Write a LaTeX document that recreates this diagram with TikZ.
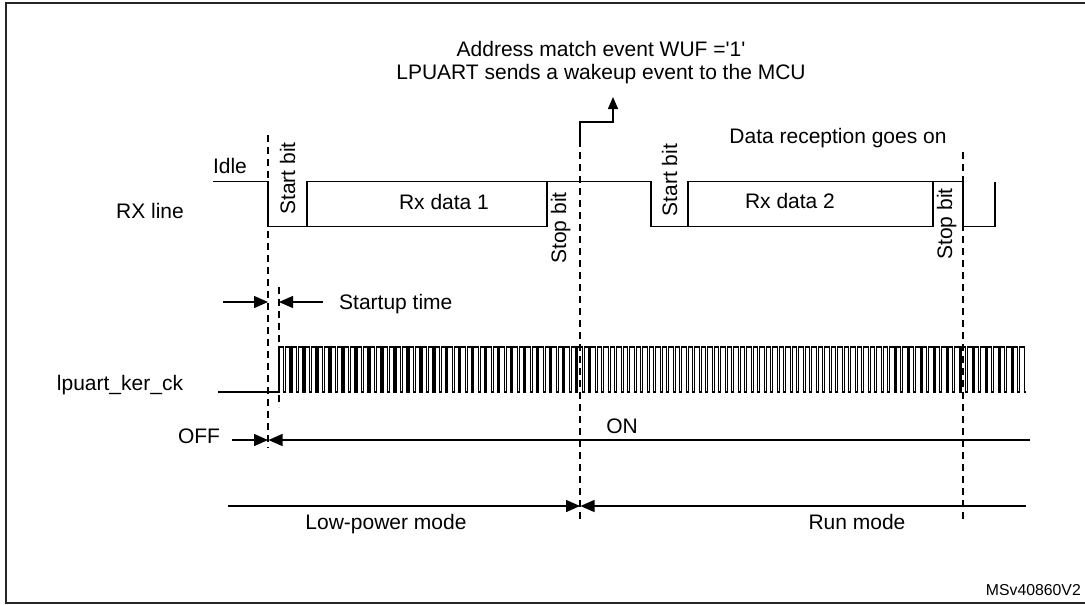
\documentclass[tikz,border=0pt]{standalone}
\usepackage{fontspec}
\setmainfont{Liberation Sans}
\usetikzlibrary{arrows.meta}
\tikzset{
  sig/.style={line width=1.4pt, line join=miter},
  guide/.style={line width=1.2pt, dash pattern=on 7pt off 5pt},
  lbl/.style={inner sep=0pt, font=\fontsize{21}{23}\selectfont},
  vlbl/.style={lbl, rotate=90, anchor=base},
  tipr/.style={line width=1.4pt, -{Triangle[length=14pt,width=12pt]}},
}
\begin{document}
\begin{tikzpicture}[x=1pt,y=-1pt]
\useasboundingbox (0,0) rectangle (1085,605);
% frame
\draw[line width=2.5pt, black!85] (1085,3) -- (6,3) -- (6,603) -- (1085,603);

% top text
\node[lbl, align=center] (wake) at (601,63) {Address match event WUF =\textquotesingle1\textquotesingle\\LPUART sends a wakeup event to the MCU};

% labels
\node[lbl, anchor=base] (idle) at (230,173) {Idle};
\node[lbl, anchor=base] (rxl) at (150,218) {RX line};
\node[lbl, anchor=base] (ck) at (120,390) {lpuart\_ker\_ck};
\node[lbl, anchor=base] (off) at (199,443) {OFF};
\node[lbl, anchor=base] (on) at (622,433) {ON};
\node[lbl, anchor=base west] (st) at (339,309) {Startup time};
\node[lbl, anchor=base] (lpm) at (386,529) {Low-power mode};
\node[lbl, anchor=base] (rm) at (857,529) {Run mode};
\node[lbl, anchor=base] (d1) at (444,209) {Rx data 1};
\node[lbl, anchor=base] (d2) at (790,208) {Rx data 2};
\node[lbl, anchor=base] (dr) at (838,143) {Data reception goes on};
\node[vlbl] (sb1) at (295,178.5) {Start bit};
\node[vlbl] (sb2) at (677,180) {Start bit};
\node[vlbl] (pb1) at (566,228) {Stop bit};
\node[vlbl] (pb2) at (952,224) {Stop bit};
\node[inner sep=0pt, anchor=base east, font=\fontsize{15.8}{18}\selectfont] (ms) at (1081,595) {MSv40860V2};

% RX line
\draw[sig] (213,181.5) -- (268,181.5) -- (268,226.5) -- (547,226.5) -- (547,181.5);
\draw[sig] (307,226.5) -- (307,181.5) -- (651,181.5) -- (651,226.5) -- (933,226.5) -- (933,181.5);
\draw[sig] (688,226.5) -- (688,181.5) -- (963,181.5) -- (963,226.5) -- (995,226.5) -- (995,181.5);

% dashed guides
\coordinate (g1a) at (268,135); \coordinate (g1b) at (268,448);
\coordinate (g2a) at (279,287); \coordinate (g2b) at (279,407);
\coordinate (g3a) at (580,140); \coordinate (g3b) at (580,521);
\coordinate (g4a) at (963,152); \coordinate (g4b) at (963,521);
\draw[guide] (g1a) -- (g1b);
\draw[guide] (g2a) -- (g2b);
\draw[guide] (g3a) -- (g3b);
\draw[guide] (g4a) -- (g4b);

% wakeup arrow
\coordinate (wk) at (613,97);
\draw[line width=1.4pt, -{Triangle[length=12pt,width=10pt]}] (g3a) -- (580,122) -- (613,122) -- (wk);

% startup time arrows
\coordinate (s1) at (223,302); \coordinate (s1t) at (268,302);
\coordinate (s2) at (323,302); \coordinate (s2t) at (279,302);
\draw[tipr] (s1) -- (s1t);
\draw[tipr] (s2) -- (s2t);

% clock
\draw[line width=1.2pt] (218,392) -- (279,392)
  \foreach \i in {0,...,114} {
    -- ({279+\i*6.4957},347) -- ({283.6+\i*6.4957},347) -- ({283.6+\i*6.4957},392) -- ({279+(\i+1)*6.4957},392)
  };

% OFF / ON
\coordinate (offs) at (232,440); \coordinate (offt) at (268,440);
\coordinate (ons) at (1030,440); \coordinate (ont) at (268.5,440);
\draw[tipr] (offs) -- (offt);
\draw[tipr] (ons) -- (ont);

% modes
\coordinate (ls) at (228,506); \coordinate (lt) at (580,506);
\coordinate (rs) at (1026,506); \coordinate (rt) at (580.5,506);
\draw[tipr] (ls) -- (lt);
\draw[tipr] (rs) -- (rt);
\end{tikzpicture}
\end{document}
